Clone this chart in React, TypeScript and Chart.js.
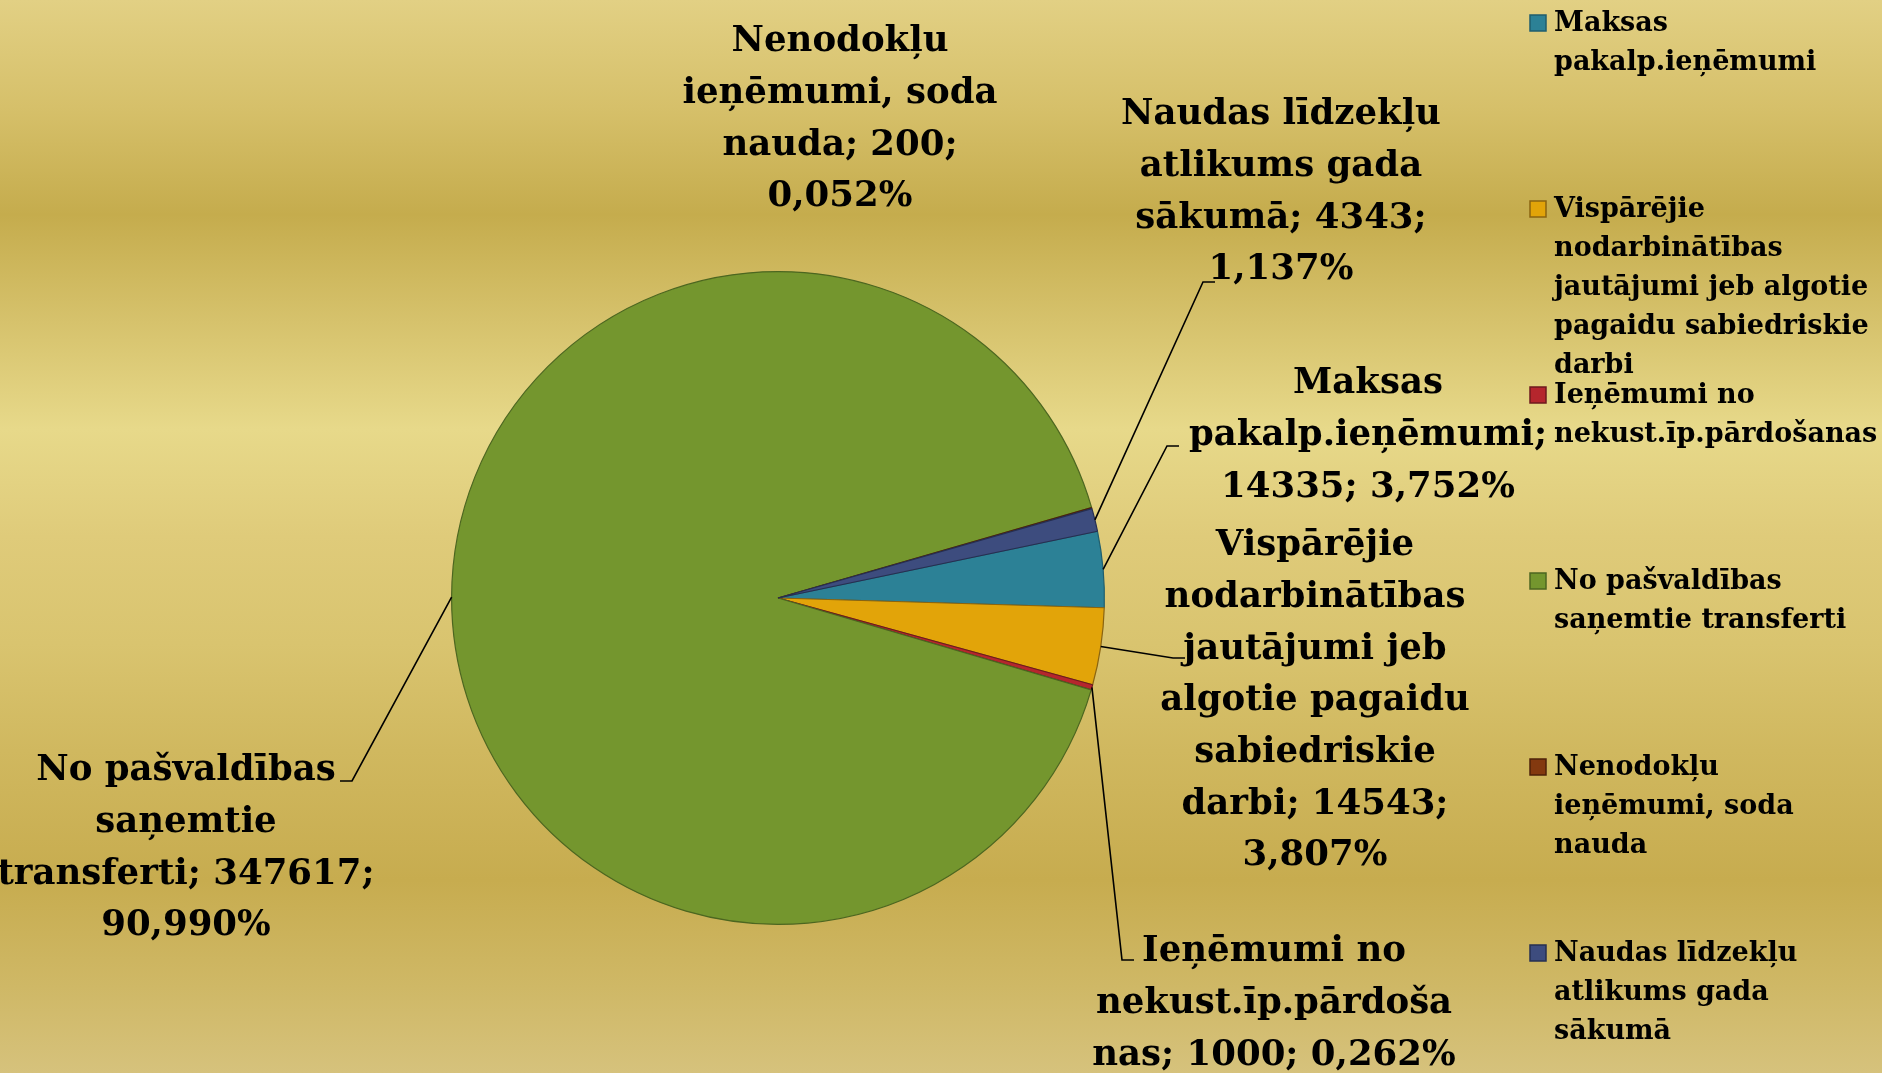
import React, { useEffect, useRef } from "react";
import { Chart, registerables } from "chart.js";

Chart.register(...registerables);

// ---- Data ----
const categories = [
  "Maksas pakalp.ieņēmumi",
  "Vispārējie nodarbinātības jautājumi jeb algotie pagaidu sabiedriskie darbi",
  "Ieņēmumi no nekust.īp.pārdošanas",
  "No pašvaldības saņemtie transferti",
  "Nenodokļu ieņēmumi, soda nauda",
  "Naudas līdzekļu atlikums gada sākumā",
];
const values = [14335, 14543, 1000, 347617, 200, 4343];
const percentLabels = ["3,752%", "3,807%", "0,262%", "90,990%", "0,052%", "1,137%"];

// legend text, wrapped as in the reference
const legendLines = [
  ["Maksas", "pakalp.ieņēmumi"],
  ["Vispārējie", "nodarbinātības", "jautājumi jeb algotie", "pagaidu sabiedriskie", "darbi"],
  ["Ieņēmumi no", "nekust.īp.pārdošanas"],
  ["No pašvaldības", "saņemtie transferti"],
  ["Nenodokļu", "ieņēmumi, soda", "nauda"],
  ["Naudas līdzekļu", "atlikums gada", "sākumā"],
];

// data label text, wrapped as in the reference
const dataLabelLines = [
  ["Maksas", "pakalp.ieņēmumi;", `${values[0]}; ${percentLabels[0]}`],
  ["Vispārējie", "nodarbinātības", "jautājumi jeb", "algotie pagaidu", "sabiedriskie", `darbi; ${values[1]};`, percentLabels[1]],
  ["Ieņēmumi no", "nekust.īp.pārdoša", `nas; ${values[2]}; ${percentLabels[2]}`],
  ["No pašvaldības", "saņemtie", `transferti; ${values[3]};`, percentLabels[3]],
  ["Nenodokļu", "ieņēmumi, soda", `nauda; ${values[4]};`, percentLabels[4]],
  ["Naudas līdzekļu", "atlikums gada", `sākumā; ${values[5]};`, percentLabels[5]],
];

// ---- Styles ----
const sliceColors = ["#2C8196", "#E2A409", "#B5262D", "#74962E", "#83390F", "#3D4C7E"];
const sliceBorders = ["#1F5E6E", "#8A6410", "#6E1A1E", "#4C6620", "#4E220A", "#262F52"];

// label layout (text centre x, first line y, leader elbow & end)
const labelLayout = [
  { cx: 1368, y0: 384, elbow: [1167, 446], end: [1179, 446] },
  { cx: 1315, y0: 546, elbow: [1173, 658], end: [1185, 658] },
  { cx: 1274, y0: 952, elbow: [1122, 960], end: [1134, 960] },
  { cx: 186, y0: 771, elbow: [352, 781], end: [340, 781] },
  { cx: 840, y0: 42, elbow: null, end: null },
  { cx: 1281, y0: 115, elbow: [1203, 282], end: [1215, 282] },
];
const LABEL_FONT = "bold 35.5px 'DejaVu Serif'";
const LABEL_LH = 51.7;
const LEGEND_FONT = "bold 27px 'DejaVu Serif'";
const LEGEND_LH = 39;
const LEGEND_X = 1530;
const LEGEND_Y0 = 24;
const LEGEND_STEP = 186;

const overlayPlugin = {
  id: "overlay",
  afterDraw(chart: any) {
    const ctx = chart.ctx as CanvasRenderingContext2D;
    const meta = chart.getDatasetMeta(0);
    ctx.save();
    // leader lines
    ctx.strokeStyle = "#000";
    ctx.lineWidth = 1.6;
    meta.data.forEach((arc: any, i: number) => {
      const L = labelLayout[i];
      if (!L.elbow) return;
      const p = arc.getProps(["x", "y", "startAngle", "endAngle", "outerRadius"], true);
      const mid = (p.startAngle + p.endAngle) / 2;
      const sx = p.x + Math.cos(mid) * p.outerRadius;
      const sy = p.y + Math.sin(mid) * p.outerRadius;
      ctx.beginPath();
      ctx.moveTo(sx, sy);
      ctx.lineTo(L.elbow[0], L.elbow[1]);
      ctx.lineTo(L.end![0], L.end![1]);
      ctx.stroke();
    });
    // data labels
    ctx.fillStyle = "#000";
    ctx.font = LABEL_FONT;
    ctx.textAlign = "center";
    ctx.textBaseline = "middle";
    dataLabelLines.forEach((lines, i) => {
      const L = labelLayout[i];
      lines.forEach((t, j) => ctx.fillText(t, L.cx, L.y0 + j * LABEL_LH));
    });
    // legend
    ctx.font = LEGEND_FONT;
    ctx.textAlign = "left";
    legendLines.forEach((lines, i) => {
      const y = LEGEND_Y0 + i * LEGEND_STEP;
      ctx.fillStyle = sliceColors[i];
      ctx.fillRect(LEGEND_X, y - 9, 16, 16);
      ctx.strokeStyle = sliceBorders[i];
      ctx.lineWidth = 1.5;
      ctx.strokeRect(LEGEND_X, y - 9, 16, 16);
      ctx.fillStyle = "#000";
      lines.forEach((t, j) => ctx.fillText(t, LEGEND_X + 24, y + j * LEGEND_LH));
    });
    ctx.restore();
  },
};

export default function App() {
  const ref = useRef<HTMLCanvasElement | null>(null);
  useEffect(() => {
    document.body.style.margin = "0";
    const chart = new Chart(ref.current!, {
      type: "pie",
      data: {
        labels: categories,
        datasets: [
          {
            data: values,
            backgroundColor: sliceColors,
            borderColor: sliceBorders,
            borderWidth: 1.2,
          },
        ],
      },
      options: {
        animation: false,
        responsive: false,
        devicePixelRatio: 1,
        rotation: 78.2,
        layout: { padding: { left: 451, right: 777, top: 271, bottom: 148 } },
        plugins: { legend: { display: false }, tooltip: { enabled: false } },
      },
      plugins: [overlayPlugin],
    } as any);
    return () => chart.destroy();
  }, []);
  return (
    <div
      style={{
        width: 1882,
        height: 1073,
        background:
          "linear-gradient(to bottom, #E2D084 0%, #D6C06A 10%, #C5AC4D 20%, #D6C26C 30%, #E7D98A 40%, #DFCB7A 50%, #D9C46F 60%, #D0B85F 70%, #C7AC4F 82%, #CFB866 92%, #D6C27C 100%)",
      }}
    >
      <canvas ref={ref} width={1882} height={1073} style={{ display: "block" }} />
    </div>
  );
}
